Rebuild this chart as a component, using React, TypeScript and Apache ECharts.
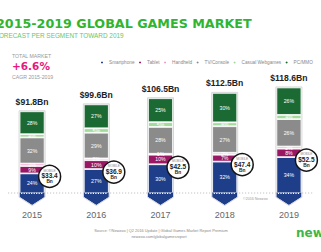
import React, { useEffect, useRef } from 'react';
import * as echarts from 'echarts';

const years = ['2015', '2016', '2017', '2018', '2019'];
const totals = [91.8, 99.6, 106.5, 112.5, 118.6];
const smartphonePct = [24, 27, 30, 32, 34];
const tabletPct = [9, 10, 10, 7, 8];
const handheldPct = [3, 2, 1, 2, 2];
const consolePct = [32, 29, 28, 27, 26];
const casualPct = [4, 5, 5, 4, 4];
const pcPct = [28, 27, 25, 30, 26];
const mobileBn = [33.4, 36.9, 42.5, 47.4, 52.5];
const segmentNames = ['Smartphone', 'Tablet', 'Handheld', 'TV/Console', 'Casual Webgames', 'PC/MMO'];
const segmentColors = ['#1f3e8a', '#9a1763', '#f29ac8', '#8b8b8b', '#a3db9c', '#1b6a33'];

const SANS = '"Liberation Sans", Arial, sans-serif';

export default function App() {
  const ref = useRef<HTMLDivElement>(null);
  useEffect(() => {
    if (!ref.current) return;
    const chart = echarts.init(ref.current, null, { renderer: 'svg' });
    const pctSets = [smartphonePct, tabletPct, handheldPct, consolePct, casualPct, pcPct];
    const sums = years.map((_, i) => pctSets.reduce((s, a) => s + a[i], 0));
    const segVals = pctSets.map((arr) => arr.map((p, i) => (p * totals[i]) / sums[i]));

    const barSeries = segmentNames.map((name, k) => ({
      name,
      type: 'bar',
      stack: 'total',
      barWidth: 25,
      z: 2,
      data: segVals[k],
      itemStyle: { color: segmentColors[k], borderColor: '#ffffff', borderWidth: 0.8 },
      label: {
        show: true,
        position: 'inside',
        formatter: (p: any) => pctSets[k][p.dataIndex] + '%',
        fontSize: 5.2,
        fontFamily: SANS,
        color: '#ffffff',
      },
    }));

    const hw = 12.5;
    const customSeries = {
      type: 'custom',
      z: 5,
      silent: true,
      data: years.map((_, i) => [i, totals[i], segVals[0][i], mobileBn[i]]),
      encode: { x: 0, y: 1 },
      renderItem: (params: any, api: any) => {
        const idx = api.value(0);
        const base = api.coord([idx, 0]);
        const top = api.coord([idx, api.value(1)]);
        const smart = api.coord([idx, api.value(2)]);
        const cx = base[0];
        const y0 = base[1];
        const ccx = cx + hw + 5;
        const ccy = smart[1] + 3;
        return {
          type: 'group',
          children: [
            {
              type: 'polygon',
              shape: { points: [[cx - hw, y0 - 0.5], [cx + hw, y0 - 0.5], [cx + hw, y0 + 4], [cx, y0 + 12], [cx - hw, y0 + 4]] },
              style: { fill: segmentColors[0] },
            },
            {
              type: 'polygon',
              shape: { points: [[cx - hw - 0.5, top[1] - 0.5], [cx + hw + 0.5, top[1] - 0.5], [cx + hw + 0.5, y0 + 4.2], [cx, y0 + 12.6], [cx - hw - 0.5, y0 + 4.2]] },
              style: { fill: 'none', stroke: '#d2d2d2', lineWidth: 0.9 },
            },
            {
              type: 'line',
              shape: { x1: cx - hw + 1.5, y1: y0 + 0.3, x2: cx + hw - 1, y2: y0 + 0.3 },
              style: { stroke: '#ffffff', lineWidth: 1.2, lineDash: [1.2, 1.3] },
            },
            {
              type: 'text',
              x: cx,
              y: top[1] - 9.5,
              style: {
                text: '$' + api.value(1) + 'Bn',
                fontSize: 8.6,
                fontWeight: 'bold',
                fontFamily: SANS,
                fill: '#222222',
                align: 'center',
                verticalAlign: 'middle',
              },
            },
            {
              type: 'circle',
              shape: { cx: ccx, cy: ccy, r: 11 },
              style: { fill: '#ffffff', stroke: '#151515', lineWidth: 1.5 },
            },
            {
              type: 'text',
              x: ccx,
              y: ccy - 6,
              style: { text: 'MOBILE', fontSize: 3.2, fontFamily: SANS, fill: '#888888', align: 'center', verticalAlign: 'middle' },
            },
            {
              type: 'text',
              x: ccx,
              y: ccy - 0.5,
              style: { text: '$' + api.value(3).toFixed(1), fontSize: 6.5, fontWeight: 'bold', fontFamily: SANS, fill: '#222222', align: 'center', verticalAlign: 'middle' },
            },
            {
              type: 'text',
              x: ccx,
              y: ccy + 5.5,
              style: { text: 'Bn', fontSize: 4.8, fontWeight: 'bold', fontFamily: SANS, fill: '#222222', align: 'center', verticalAlign: 'middle' },
            },
          ],
        };
      },
    };

    const option: any = {
      animation: false,
      backgroundColor: '#ffffff',
      grid: { left: -6.5, right: -2.5, top: 59.5, bottom: 59, containLabel: false },
      xAxis: {
        type: 'category',
        data: years,
        axisLine: { show: false },
        axisTick: { show: false },
        axisLabel: { margin: 17, fontSize: 9, color: '#666666', fontFamily: SANS },
      },
      yAxis: { type: 'value', min: 0, max: 150, show: false },
      legend: {
        data: segmentNames,
        left: 99,
        top: 59.5,
        padding: 0,
        icon: 'circle',
        itemWidth: 4,
        itemHeight: 4,
        itemGap: 2.5,
        textStyle: { fontSize: 4.7, color: '#888888', fontFamily: SANS },
      },
      graphic: [
        {
          type: 'line',
          z: 0,
          shape: { x1: 8, y1: 193, x2: 313, y2: 193 },
          style: { stroke: '#c4c4c4', lineWidth: 1.2, lineDash: [1.2, 1.8] },
        },
        {
          type: 'text',
          x: -4,
          y: 23.5,
          style: { text: '2015-2019 GLOBAL GAMES MARKET', fontSize: 12.7, fontWeight: 'bold', fontFamily: '"DejaVu Sans", sans-serif', fill: '#2fb52f', verticalAlign: 'middle' },
        },
        {
          type: 'text',
          x: -5,
          y: 35,
          style: { text: 'FORECAST PER SEGMENT TOWARD 2019', fontSize: 6.4, fontFamily: SANS, fill: '#66c866', verticalAlign: 'middle' },
        },
        {
          type: 'text',
          x: 12,
          y: 55.5,
          style: { text: 'TOTAL MARKET', fontSize: 5.2, fontFamily: SANS, fill: '#999999', verticalAlign: 'middle' },
        },
        {
          type: 'text',
          x: 12,
          y: 66,
          style: { text: '+6.6%', fontSize: 10.5, fontWeight: 'bold', fontFamily: '"DejaVu Sans", sans-serif', fill: '#e6187f', verticalAlign: 'middle' },
        },
        {
          type: 'text',
          x: 12,
          y: 77,
          style: { text: 'CAGR 2015-2019', fontSize: 5.2, fontFamily: SANS, fill: '#999999', verticalAlign: 'middle' },
        },
        {
          type: 'text',
          x: 243,
          y: 199,
          style: { text: '©2016 Newzoo', fontSize: 3.6, fontFamily: SANS, fill: '#999999', verticalAlign: 'middle' },
        },
        {
          type: 'text',
          x: 161,
          y: 230,
          style: { text: 'Source: ©Newzoo | Q2 2016 Update | Global Games Market Report Premium', fontSize: 3.9, fontFamily: SANS, fill: '#888888', align: 'center', verticalAlign: 'middle' },
        },
        {
          type: 'text',
          x: 159,
          y: 236,
          style: { text: 'newzoo.com/globalgamesreport', fontSize: 3.9, fontFamily: SANS, fill: '#888888', align: 'center', verticalAlign: 'middle' },
        },
        {
          type: 'text',
          x: 296,
          y: 233,
          style: { text: 'newzoo', fontSize: 12, fontWeight: 'bold', fontFamily: '"DejaVu Sans", sans-serif', fill: '#3db54a', verticalAlign: 'middle' },
        },
      ],
      series: [...barSeries, customSeries],
    };
    chart.setOption(option);
    return () => chart.dispose();
  }, []);
  return (
    <div
      ref={ref}
      style={{ position: 'fixed', left: 0, top: 0, width: 321, height: 252, background: '#ffffff' }}
    />
  );
}
